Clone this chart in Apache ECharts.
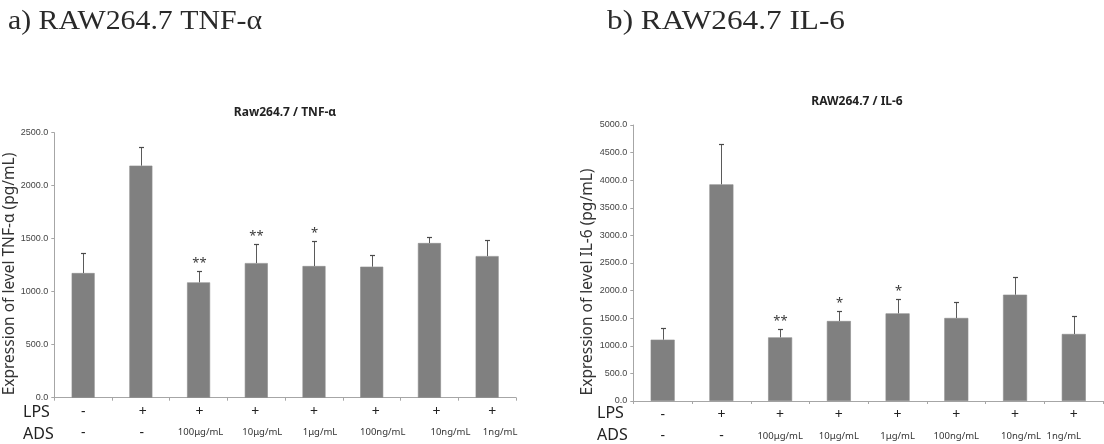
<!DOCTYPE html>
<html>
<head>
<meta charset="utf-8">
<script src="https://cdn.jsdelivr.net/npm/echarts@6/dist/echarts.min.js"></script>
<style>
  html, body { margin: 0; padding: 0; background: #fff; }
  #chart { width: 1104px; height: 444px; }
</style>
</head>
<body>
<div id="chart"></div>
<script>
// Treatment rows shown under each bar
const lpsRow = ['-', '+', '+', '+', '+', '+', '+', '+'];
const adsRow = ['-', '-', '100μg/mL', '10μg/mL', '1μg/mL', '100ng/mL', '10ng/mL', '1ng/mL'];
const groups = ['0', '1', '2', '3', '4', '5', '6', '7'];

// TNF-α (pg/mL): mean, SD, significance marks
const tnfMean = [1176, 2189, 1088, 1270, 1242, 1236, 1459, 1336];
const tnfErr  = [192, 173, 110, 177, 233, 107, 54, 151];
const tnfSig  = ['', '', '**', '**', '*', '', '', ''];

// IL-6 (pg/mL): mean, SD, significance marks
const il6Mean = [1111, 3925, 1153, 1449, 1588, 1504, 1926, 1214];
const il6Err  = [205, 725, 151, 181, 254, 283, 314, 320];
const il6Sig  = ['', '', '**', '*', '*', '', '', ''];

// Value axis ranges
const tnfAxisMax = 2500;
const il6AxisMax = 5000;
const axisStep = 500;

// horizontal nudges (px) of the treatment labels under each bar
const nudgeLeft  = { lps: [0, 2, 1, -1, 0, 4, 7, 5], ads: [0, 1, 2, 6, 6, 11, 21, 13] };
const nudgeRight = { lps: [0, 0, 0, 0, 0, 0, 0, 0], ads: [0, 0, 0, 0, 0, 0, 6, -10] };

const chart = echarts.init(document.getElementById('chart'));

const axisGrey = '#a6a6a6';
const barGrey = '#808080';
const sansFont = '"Noto Sans", "Open Sans", sans-serif';
const narrowFont = '"Liberation Sans Narrow", "Liberation Sans", sans-serif';
const headFont = '28px "Liberation Serif", serif';

// width of a string in a given CSS font
const measureCtx = document.createElement('canvas').getContext('2d');
function textWidth(text, font) {
  measureCtx.font = font;
  return measureCtx.measureText(text).width;
}

function errorBars(sig) {
  return function (params, api) {
    const i = api.value(0);
    const m = api.value(1);
    const e = api.value(2);
    const base = api.coord([i, m]);
    const top = api.coord([i, m + e]);
    const x = Math.round(base[0]) + 0.5;
    const yt = Math.round(top[1]) + 0.5;
    const children = [
      { type: 'line', shape: { x1: x, y1: base[1], x2: x, y2: yt }, style: { stroke: '#5a5a5a', lineWidth: 1 } },
      { type: 'line', shape: { x1: x - 2.5, y1: yt, x2: x + 2.5, y2: yt }, style: { stroke: '#4a4a4a', lineWidth: 1.2 } }
    ];
    if (sig[i]) {
      children.push({
        type: 'text', x: x, y: yt - 2,
        style: { text: sig[i], align: 'center', verticalAlign: 'bottom', fontSize: 13, fontFamily: sansFont, fill: '#3a3a3a' }
      });
    }
    return { type: 'group', children: children };
  };
}

function xAxisFor(gridIndex, nudge) {
  const rich = {};
  for (let k = 0; k < groups.length; k++) {
    const pl = Math.max(0, 2 * nudge.lps[k]), pr = Math.max(0, -2 * nudge.lps[k]);
    const al = Math.max(0, 2 * nudge.ads[k]), ar = Math.max(0, -2 * nudge.ads[k]);
    rich['l' + k] = { fontSize: 14, lineHeight: 18, fontFamily: sansFont, color: '#222', padding: [0, pr, 0, pl] };
    rich['s' + k] = { fontSize: 14, lineHeight: 24, fontFamily: sansFont, color: '#222', padding: [0, ar, 0, al] };
    rich['a' + k] = { fontSize: 9.5, lineHeight: 24, fontFamily: sansFont, color: '#333', padding: [0, ar, 0, al] };
  }
  return {
    type: 'category', gridIndex: gridIndex, data: groups,
    axisLine: { lineStyle: { color: axisGrey, width: 1 } },
    axisTick: { show: true, length: 3, lineStyle: { color: axisGrey } },
    axisLabel: {
      interval: 0, margin: 5,
      formatter: function (v, idx) {
        const a = adsRow[idx];
        return '{l' + idx + '|' + lpsRow[idx] + '}\n{' + (a.length > 1 ? 'a' : 's') + idx + '|' + a + '}';
      },
      rich: rich
    }
  };
}

function yAxisFor(gridIndex, max) {
  return {
    type: 'value', gridIndex: gridIndex, min: 0, max: max, interval: axisStep,
    splitLine: { show: false },
    axisLine: { show: true, lineStyle: { color: axisGrey, width: 1 } },
    axisTick: { show: true, length: 3, lineStyle: { color: axisGrey } },
    axisLabel: {
      margin: 6, fontSize: 9, fontFamily: narrowFont, color: '#444',
      formatter: function (v) { return v.toFixed(1); }
    }
  };
}

function textEl(x, y, text, font, extra) {
  return {
    type: 'text', x: x, y: y,
    style: Object.assign({ text: text, font: font, fill: '#222', align: 'left', verticalAlign: 'middle' }, extra || {})
  };
}

// panel heading squeezed to a fixed width
function heading(x, y, text, width) {
  const el = textEl(x, y, text, headFont, { fill: '#2a2a2a' });
  el.scaleX = width / textWidth(text, headFont);
  return el;
}

const option = {
  backgroundColor: '#fff',
  animation: false,
  grid: [
    { left: 54.3, right: 588, top: 132.7, bottom: 46.3 },
    { left: 633.3, right: 0, top: 125, bottom: 43 }
  ],
  xAxis: [xAxisFor(0, nudgeLeft), xAxisFor(1, nudgeRight)],
  yAxis: [yAxisFor(0, tnfAxisMax), yAxisFor(1, il6AxisMax)],
  series: [
    {
      type: 'bar', xAxisIndex: 0, yAxisIndex: 0, data: tnfMean, barWidth: 23,
      itemStyle: { color: barGrey, borderColor: '#8c8c8c', borderWidth: 0.6 }
    },
    {
      type: 'custom', xAxisIndex: 0, yAxisIndex: 0, z: 3,
      data: tnfMean.map(function (m, i) { return [i, m, tnfErr[i]]; }),
      encode: { x: 0, y: 1 },
      renderItem: errorBars(tnfSig)
    },
    {
      type: 'bar', xAxisIndex: 1, yAxisIndex: 1, data: il6Mean, barWidth: 24,
      itemStyle: { color: barGrey, borderColor: '#8c8c8c', borderWidth: 0.6 }
    },
    {
      type: 'custom', xAxisIndex: 1, yAxisIndex: 1, z: 3,
      data: il6Mean.map(function (m, i) { return [i, m, il6Err[i]]; }),
      encode: { x: 0, y: 1 },
      renderItem: errorBars(il6Sig)
    }
  ],
  graphic: [
    // panel headings
    heading(8, 22, 'a) RAW264.7 TNF-α', 254),
    heading(607, 22, 'b) RAW264.7 IL-6', 238),
    // chart titles
    textEl(285, 113, 'Raw264.7 / TNF-α', 'bold 12px ' + sansFont, { align: 'center' }),
    textEl(857, 102, 'RAW264.7 / IL-6', 'bold 12px ' + sansFont, { align: 'center' }),
    // value axis titles
    { type: 'text', x: 10, y: 274, rotation: Math.PI / 2,
      style: { text: 'Expression of level TNF-α (pg/mL)', font: '15.5px ' + sansFont, fill: '#333', align: 'center', verticalAlign: 'middle' } },
    { type: 'text', x: 588, y: 282, rotation: Math.PI / 2,
      style: { text: 'Expression of level IL-6 (pg/mL)', font: '15.5px ' + sansFont, fill: '#333', align: 'center', verticalAlign: 'middle' } },
    // treatment row headers
    textEl(23, 412, 'LPS', '16px ' + sansFont),
    textEl(23, 434, 'ADS', '16px ' + sansFont),
    textEl(597, 413, 'LPS', '16px ' + sansFont),
    textEl(597, 435, 'ADS', '16px ' + sansFont)
  ]
};

chart.setOption(option);
</script>
</body>
</html>
